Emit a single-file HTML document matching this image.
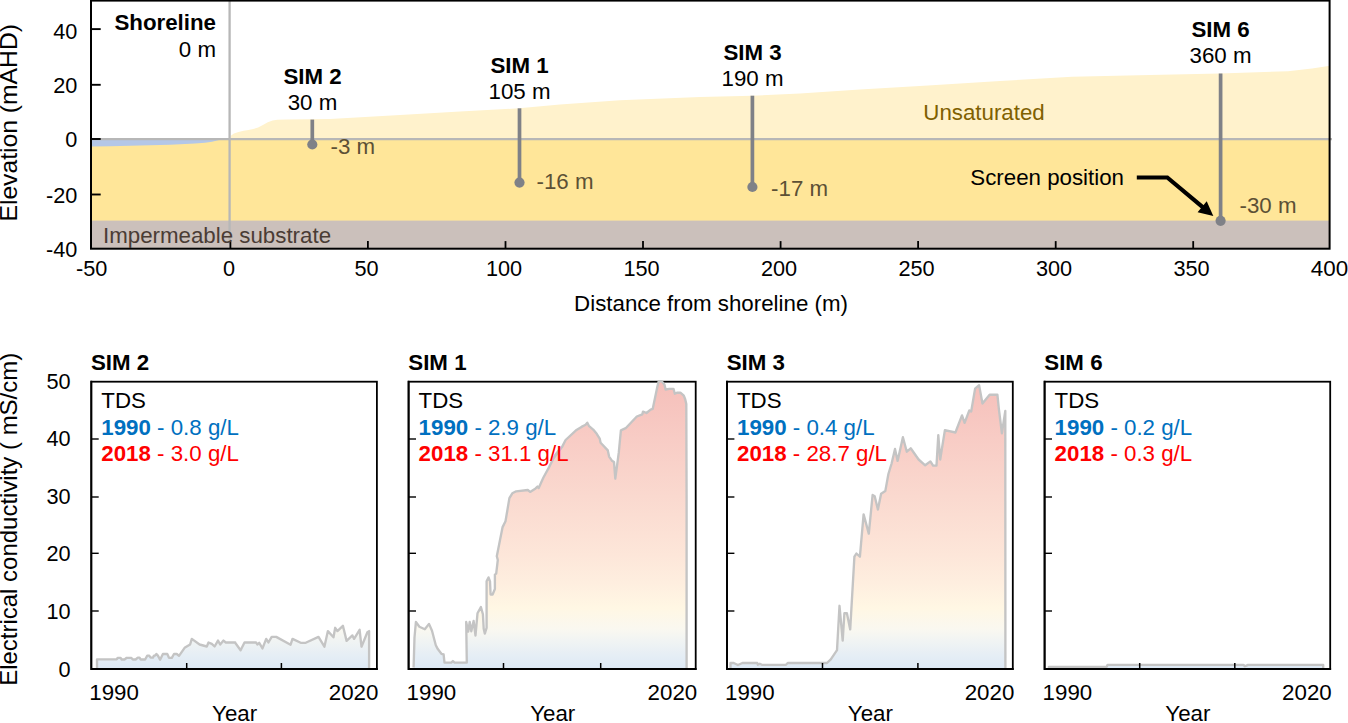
<!DOCTYPE html>
<html lang="en"><head><meta charset="utf-8"><title>Seawater intrusion transect</title>
<style>
html,body{margin:0;padding:0;background:#fff;}
body{width:1348px;height:723px;overflow:hidden;}
svg{display:block;}
text{font-family:"Liberation Sans",sans-serif;font-size:22.3px;fill:#000;}
.b{font-weight:bold;}
.g{fill:#5C5035;}
.m{text-anchor:middle;}
.e{text-anchor:end;}
.t{font-size:21.7px;}
</style></head><body>
<svg width="1348" height="723" viewBox="0 0 1348 723">
<defs>
<linearGradient id="ec" gradientUnits="userSpaceOnUse" x1="0" y1="669.0" x2="0" y2="381.7">
<stop offset="0" stop-color="#DDE9F5"/>
<stop offset="0.05" stop-color="#E6EEF5"/>
<stop offset="0.1" stop-color="#F1F4F3"/>
<stop offset="0.14" stop-color="#FAF8F0"/>
<stop offset="0.21" stop-color="#FFF7E4"/>
<stop offset="0.3" stop-color="#FEEEDF"/>
<stop offset="0.4" stop-color="#FDE6D9"/>
<stop offset="0.6" stop-color="#FAD9CF"/>
<stop offset="0.8" stop-color="#F8CCC5"/>
<stop offset="1.0" stop-color="#F5BFBA"/>
</linearGradient>
</defs>
<rect width="1348" height="723" fill="#fff"/>
<g id="section">
<rect x="91.0" y="139.0" width="1238.6" height="82.0" fill="#FFE699"/>
<rect x="91.0" y="220.6" width="1238.6" height="28.099999999999994" fill="#CBC0BB"/>
<path d="M230.5,139.0 L230.8,135.8 L233.9,133.4 L238.5,132.0 L243.6,130.8 L248.5,129.9 L253.2,129.0 L258.1,127.6 L262.9,125.0 L267.8,122.3 L272.6,120.6 L277.4,119.8 L287.1,119.4 L306.5,119.2 L330.0,118.9 L400.0,115.0 L460.0,111.5 L519.0,108.3 L560.0,104.5 L620.0,100.3 L700.0,97.0 L752.0,95.7 L800.0,93.5 L860.0,89.5 L928.0,85.5 L1000.0,81.0 L1072.0,76.8 L1150.0,75.0 L1220.0,73.4 L1288.0,71.2 L1312.0,68.5 L1330.0,65.8 L1329.6,139.0 L230.5,139.0Z" fill="#FFF2CC"/>
<path d="M91.0,139.0 L223.0,139.0 L221.0,139.5 L217.0,140.6 L212.0,141.7 L205.0,142.7 L195.0,143.5 L170.0,144.8 L140.0,145.6 L110.0,146.3 L91.5,146.5Z" fill="#B4C7E7"/>
<line x1="91.0" y1="139.2" x2="1332" y2="139.2" stroke="#B7B7B7" stroke-width="2.3"/>
<line x1="229.6" y1="0.6" x2="229.6" y2="244" stroke="#B7B7B7" stroke-width="2.3"/>
<line x1="312.3" y1="119.6" x2="312.3" y2="144.5" stroke="#7F8187" stroke-width="3.7"/>
<circle cx="312.3" cy="144.5" r="5.1" fill="#7F8187"/>
<line x1="519.5" y1="108.3" x2="519.5" y2="182.6" stroke="#7F8187" stroke-width="3.7"/>
<circle cx="519.5" cy="182.6" r="5.1" fill="#7F8187"/>
<line x1="752.4" y1="95.7" x2="752.4" y2="187.0" stroke="#7F8187" stroke-width="3.7"/>
<circle cx="752.4" cy="187.0" r="5.1" fill="#7F8187"/>
<line x1="1220.6" y1="73.4" x2="1220.6" y2="220.8" stroke="#7F8187" stroke-width="3.7"/>
<circle cx="1220.6" cy="220.8" r="5.1" fill="#7F8187"/>
<rect x="91.0" y="0.6" width="1238.6" height="248.1" fill="none" stroke="#000" stroke-width="2"/>
<line x1="91.0" y1="29.1" x2="100.7" y2="29.1" stroke="#000" stroke-width="1.9"/>
<line x1="91.0" y1="84.8" x2="100.7" y2="84.8" stroke="#000" stroke-width="1.9"/>
<line x1="91.0" y1="139.0" x2="100.7" y2="139.0" stroke="#000" stroke-width="1.9"/>
<line x1="91.0" y1="194.5" x2="100.7" y2="194.5" stroke="#000" stroke-width="1.9"/>
<line x1="230.4" y1="248.7" x2="230.4" y2="241.1" stroke="#000" stroke-width="1.8"/>
<line x1="367.9" y1="248.7" x2="367.9" y2="241.1" stroke="#000" stroke-width="1.8"/>
<line x1="505.5" y1="248.7" x2="505.5" y2="241.1" stroke="#000" stroke-width="1.8"/>
<line x1="643.0" y1="248.7" x2="643.0" y2="241.1" stroke="#000" stroke-width="1.8"/>
<line x1="780.6" y1="248.7" x2="780.6" y2="241.1" stroke="#000" stroke-width="1.8"/>
<line x1="918.1" y1="248.7" x2="918.1" y2="241.1" stroke="#000" stroke-width="1.8"/>
<line x1="1055.7" y1="248.7" x2="1055.7" y2="241.1" stroke="#000" stroke-width="1.8"/>
<line x1="1193.2" y1="248.7" x2="1193.2" y2="241.1" stroke="#000" stroke-width="1.8"/>
<text class="e t" x="77.3" y="39.4">40</text>
<text class="e t" x="77.3" y="93.1">20</text>
<text class="e t" x="77.3" y="147.2">0</text>
<text class="e t" x="77.3" y="202.8">-20</text>
<text class="e t" x="77.3" y="257.0">-40</text>
<text class="m t" x="91.6" y="276.2">-50</text>
<text class="m t" x="229.1" y="276.2">0</text>
<text class="m t" x="366.6" y="276.2">50</text>
<text class="m t" x="504.1" y="276.2">100</text>
<text class="m t" x="641.6" y="276.2">150</text>
<text class="m t" x="779.1" y="276.2">200</text>
<text class="m t" x="916.6" y="276.2">250</text>
<text class="m t" x="1054.1" y="276.2">300</text>
<text class="m t" x="1191.6" y="276.2">350</text>
<text class="m t" x="1329.5" y="276.2" style="font-size:22.4px">400</text>
<text class="m" x="711.0" y="311.0">Distance from shoreline (m)</text>
<text class="m" transform="translate(16.6,122.8) rotate(-90)" style="font-size:24px" textLength="197.5" lengthAdjust="spacingAndGlyphs">Elevation (mAHD)</text>
<text class="b e" x="216.0" y="29.9">Shoreline</text>
<text class="e" x="216.0" y="56.5">0 m</text>
<text class="b m" x="312.5" y="83.7">SIM 2</text>
<text class="m" x="312.5" y="109.8">30 m</text>
<text class="b m" x="519.5" y="72.5">SIM 1</text>
<text class="m" x="519.5" y="98.6">105 m</text>
<text class="b m" x="752.5" y="59.6">SIM 3</text>
<text class="m" x="752.5" y="85.7">190 m</text>
<text class="b m" x="1220.5" y="37.0">SIM 6</text>
<text class="m" x="1220.5" y="62.9">360 m</text>
<text class="g" x="330.5" y="153.8">-3 m</text>
<text class="g" x="536.5" y="188.8">-16 m</text>
<text class="g" x="771.1" y="196.0">-17 m</text>
<text class="g" x="1239.5" y="213.0">-30 m</text>
<text x="923.3" y="119.7" style="fill:#7F6000">Unsaturated</text>
<text x="103.0" y="242.6" style="fill:#4A3C35">Impermeable substrate</text>
<text x="970.3" y="184.5">Screen position</text>
<path d="M1136.8,177.5 L1167.3,177.5 L1203.0,207.3" fill="none" stroke="#000" stroke-width="4.2" stroke-linejoin="miter"/>
<path d="M1213.3,216.0 L1197.6,212.2 L1206.7,201.3 Z" fill="#000"/>
</g>
<g id="ec">
<text class="m" transform="translate(17.3,519.3) rotate(-90)" style="font-size:24px" textLength="333" lengthAdjust="spacingAndGlyphs">Electrical conductivity ( mS/cm)</text>
<text class="e t" x="70.5" y="676.5">0</text>
<text class="e t" x="70.5" y="619.0">10</text>
<text class="e t" x="70.5" y="561.4">20</text>
<text class="e t" x="70.5" y="503.9">30</text>
<text class="e t" x="70.5" y="446.3">40</text>
<text class="e t" x="70.5" y="388.8">50</text>
<rect x="91.3" y="381.7" width="285.6" height="287.3" fill="none" stroke="#000" stroke-width="1.8"/>
<path d="M97.0,669.0 L97.0,667.9 L97.0,659.3 L116.7,659.3 L117.8,657.8 L120.6,657.8 L121.7,659.5 L124.5,659.5 L126.7,657.8 L131.2,657.8 L132.8,659.5 L135.6,659.5 L137.8,657.6 L139.5,657.6 L140.6,659.5 L145.1,659.5 L147.3,655.6 L149.0,655.6 L150.6,657.6 L152.9,657.6 L154.0,655.6 L155.1,655.6 L156.4,654.0 L157.9,655.6 L160.1,659.8 L162.9,654.0 L167.3,654.0 L169.0,657.8 L171.8,657.8 L174.0,654.0 L176.8,654.0 L179.0,655.8 L184.6,647.8 L190.1,644.5 L191.8,638.9 L199.6,644.5 L206.8,646.5 L208.5,642.5 L211.8,643.9 L214.6,646.5 L218.0,640.6 L220.2,644.5 L223.5,640.6 L225.8,642.5 L235.2,642.5 L235.0,642.5 L240.6,650.3 L244.5,642.5 L256.1,642.5 L257.3,644.5 L259.2,642.8 L262.5,648.4 L266.2,638.9 L268.4,642.5 L271.7,636.9 L276.2,636.9 L290.6,644.7 L292.5,638.9 L300.7,642.8 L305.7,642.8 L318.5,636.9 L324.4,646.7 L327.9,631.1 L333.5,637.3 L335.2,627.8 L337.4,631.1 L342.9,625.8 L346.6,640.9 L352.4,635.4 L354.1,638.9 L359.6,629.8 L361.5,646.7 L367.4,632.3 L369.1,631.1 L369.1,667.9 L369.1,669.0Z" fill="url(#ec)"/>
<path d="M97.0,667.9 L97.0,659.3 L116.7,659.3 L117.8,657.8 L120.6,657.8 L121.7,659.5 L124.5,659.5 L126.7,657.8 L131.2,657.8 L132.8,659.5 L135.6,659.5 L137.8,657.6 L139.5,657.6 L140.6,659.5 L145.1,659.5 L147.3,655.6 L149.0,655.6 L150.6,657.6 L152.9,657.6 L154.0,655.6 L155.1,655.6 L156.4,654.0 L157.9,655.6 L160.1,659.8 L162.9,654.0 L167.3,654.0 L169.0,657.8 L171.8,657.8 L174.0,654.0 L176.8,654.0 L179.0,655.8 L184.6,647.8 L190.1,644.5 L191.8,638.9 L199.6,644.5 L206.8,646.5 L208.5,642.5 L211.8,643.9 L214.6,646.5 L218.0,640.6 L220.2,644.5 L223.5,640.6 L225.8,642.5 L235.2,642.5 L235.0,642.5 L240.6,650.3 L244.5,642.5 L256.1,642.5 L257.3,644.5 L259.2,642.8 L262.5,648.4 L266.2,638.9 L268.4,642.5 L271.7,636.9 L276.2,636.9 L290.6,644.7 L292.5,638.9 L300.7,642.8 L305.7,642.8 L318.5,636.9 L324.4,646.7 L327.9,631.1 L333.5,637.3 L335.2,627.8 L337.4,631.1 L342.9,625.8 L346.6,640.9 L352.4,635.4 L354.1,638.9 L359.6,629.8 L361.5,646.7 L367.4,632.3 L369.1,631.1 L369.1,667.9" fill="none" stroke="#C4C4C4" stroke-width="2.35" stroke-linejoin="round"/>
<path d="M91.3,380.8 L91.3,669.0 L377.8,669.0" fill="none" stroke="#000" stroke-width="1.8"/>
<line x1="91.3" y1="611.0" x2="98.7" y2="611.0" stroke="#000" stroke-width="1.4"/>
<line x1="91.3" y1="553.3" x2="98.7" y2="553.3" stroke="#000" stroke-width="1.4"/>
<line x1="91.3" y1="497.0" x2="98.7" y2="497.0" stroke="#000" stroke-width="1.4"/>
<line x1="91.3" y1="439.0" x2="98.7" y2="439.0" stroke="#000" stroke-width="1.4"/>
<line x1="186.7" y1="669.0" x2="186.7" y2="663.0" stroke="#000" stroke-width="1.5"/>
<line x1="281.4" y1="669.0" x2="281.4" y2="663.0" stroke="#000" stroke-width="1.5"/>
<text class="b" x="91.0" y="369.7">SIM 2</text>
<text x="101.3" y="408.3">TDS</text>
<text x="101.3" y="434.7" style="fill:#0070C0"><tspan class="b">1990</tspan> - 0.8 g/L</text>
<text x="101.3" y="460.8" style="fill:#FF0000"><tspan class="b">2018</tspan> - 3.0 g/L</text>
<text x="89.3" y="699.6">1990</text>
<text class="e" x="378.4" y="699.6">2020</text>
<text class="m" x="234.6" y="721.2">Year</text>
<rect x="408.6" y="381.7" width="287.1" height="287.3" fill="none" stroke="#000" stroke-width="1.8"/>
<path d="M413.6,669.0 L413.6,667.5 L414.5,637.5 L415.9,622.0 L419.4,626.8 L424.8,629.3 L429.0,623.9 L432.0,630.7 L435.8,645.2 L437.8,649.1 L441.6,653.9 L443.6,654.5 L444.5,662.6 L451.3,662.6 L452.9,661.1 L454.6,662.6 L466.8,662.6 L466.2,622.0 L468.2,631.6 L469.7,622.0 L471.3,631.3 L473.6,621.0 L475.5,635.5 L477.5,613.3 L480.9,607.1 L482.9,614.2 L483.7,628.7 L484.8,633.6 L486.6,627.8 L486.6,581.3 L488.5,577.4 L490.0,581.3 L490.6,594.5 L492.6,594.5 L494.9,589.0 L494.9,574.5 L496.2,573.6 L497.8,560.0 L496.8,556.2 L502.6,527.1 L505.5,521.3 L509.4,498.1 L512.3,493.3 L516.2,491.3 L527.8,490.0 L530.1,491.9 L535.6,488.4 L537.5,486.5 L538.7,488.0 L543.3,477.8 L549.1,467.1 L554.9,455.5 L560.7,447.7 L553.8,458.0 L562.1,446.9 L565.6,440.0 L576.0,430.3 L581.5,426.9 L585.6,424.8 L587.3,422.7 L589.1,426.2 L593.2,429.6 L596.7,433.8 L599.7,438.6 L600.6,442.8 L607.8,450.4 L609.1,456.6 L611.9,460.7 L614.0,462.1 L615.3,478.7 L618.8,452.4 L620.9,430.3 L625.7,428.2 L636.8,416.5 L642.3,414.4 L643.0,411.6 L646.5,413.0 L650.6,409.6 L652.7,408.9 L657.5,386.1 L658.7,381.2 L661.7,381.2 L664.5,384.7 L665.6,389.5 L669.3,388.8 L673.5,388.8 L674.8,393.7 L676.9,392.7 L680.4,392.7 L683.8,395.7 L685.2,399.2 L686.3,404.0 L686.6,500.0 L686.6,668.6 L686.6,669.0Z" fill="url(#ec)"/>
<path d="M413.6,667.5 L414.5,637.5 L415.9,622.0 L419.4,626.8 L424.8,629.3 L429.0,623.9 L432.0,630.7 L435.8,645.2 L437.8,649.1 L441.6,653.9 L443.6,654.5 L444.5,662.6 L451.3,662.6 L452.9,661.1 L454.6,662.6 L466.8,662.6 L466.2,622.0 L468.2,631.6 L469.7,622.0 L471.3,631.3 L473.6,621.0 L475.5,635.5 L477.5,613.3 L480.9,607.1 L482.9,614.2 L483.7,628.7 L484.8,633.6 L486.6,627.8 L486.6,581.3 L488.5,577.4 L490.0,581.3 L490.6,594.5 L492.6,594.5 L494.9,589.0 L494.9,574.5 L496.2,573.6 L497.8,560.0 L496.8,556.2 L502.6,527.1 L505.5,521.3 L509.4,498.1 L512.3,493.3 L516.2,491.3 L527.8,490.0 L530.1,491.9 L535.6,488.4 L537.5,486.5 L538.7,488.0 L543.3,477.8 L549.1,467.1 L554.9,455.5 L560.7,447.7 L553.8,458.0 L562.1,446.9 L565.6,440.0 L576.0,430.3 L581.5,426.9 L585.6,424.8 L587.3,422.7 L589.1,426.2 L593.2,429.6 L596.7,433.8 L599.7,438.6 L600.6,442.8 L607.8,450.4 L609.1,456.6 L611.9,460.7 L614.0,462.1 L615.3,478.7 L618.8,452.4 L620.9,430.3 L625.7,428.2 L636.8,416.5 L642.3,414.4 L643.0,411.6 L646.5,413.0 L650.6,409.6 L652.7,408.9 L657.5,386.1 L658.7,381.2 L661.7,381.2 L664.5,384.7 L665.6,389.5 L669.3,388.8 L673.5,388.8 L674.8,393.7 L676.9,392.7 L680.4,392.7 L683.8,395.7 L685.2,399.2 L686.3,404.0 L686.6,500.0 L686.6,668.6" fill="none" stroke="#C4C4C4" stroke-width="2.35" stroke-linejoin="round"/>
<path d="M408.6,380.8 L408.6,669.0 L696.6,669.0" fill="none" stroke="#000" stroke-width="1.8"/>
<line x1="408.6" y1="611.0" x2="416.0" y2="611.0" stroke="#000" stroke-width="1.4"/>
<line x1="408.6" y1="553.3" x2="416.0" y2="553.3" stroke="#000" stroke-width="1.4"/>
<line x1="408.6" y1="497.0" x2="416.0" y2="497.0" stroke="#000" stroke-width="1.4"/>
<line x1="408.6" y1="439.0" x2="416.0" y2="439.0" stroke="#000" stroke-width="1.4"/>
<line x1="503.5" y1="669.0" x2="503.5" y2="663.0" stroke="#000" stroke-width="1.5"/>
<line x1="600.7" y1="669.0" x2="600.7" y2="663.0" stroke="#000" stroke-width="1.5"/>
<text class="b" x="408.3" y="369.7">SIM 1</text>
<text x="418.6" y="408.3">TDS</text>
<text x="418.6" y="434.7" style="fill:#0070C0"><tspan class="b">1990</tspan> - 2.9 g/L</text>
<text x="418.6" y="460.8" style="fill:#FF0000"><tspan class="b">2018</tspan> - 31.1 g/L</text>
<text x="406.6" y="699.6">1990</text>
<text class="e" x="697.2" y="699.6">2020</text>
<text class="m" x="552.7" y="721.2">Year</text>
<rect x="727.0" y="381.7" width="285.8" height="287.3" fill="none" stroke="#000" stroke-width="1.8"/>
<path d="M730.5,669.0 L730.5,668.7 L730.5,663.0 L733.7,663.0 L737.9,665.0 L742.4,663.0 L757.3,663.0 L757.8,664.8 L759.8,663.8 L761.8,664.8 L786.0,664.8 L787.7,663.0 L827.0,663.0 L830.8,659.3 L837.0,650.1 L839.5,605.8 L842.7,640.6 L844.4,613.2 L846.9,613.2 L850.2,629.4 L854.4,556.7 L856.4,553.5 L859.9,556.7 L863.6,514.4 L868.8,533.6 L872.6,495.0 L874.7,496.3 L877.9,509.5 L881.1,493.7 L885.3,491.1 L888.4,474.0 L891.6,463.5 L895.0,449.0 L897.6,460.9 L902.9,437.2 L906.8,451.7 L910.7,448.3 L918.6,459.5 L925.2,465.3 L930.4,461.4 L933.1,465.6 L936.5,465.6 L938.3,435.1 L940.2,459.5 L944.9,430.1 L955.4,432.5 L962.0,415.4 L964.6,422.8 L969.3,410.4 L971.2,411.5 L975.1,388.6 L979.1,385.2 L982.5,403.6 L989.6,394.7 L997.4,394.7 L998.8,408.3 L1001.9,433.3 L1005.3,410.9 L1005.4,668.6 L1005.4,669.0Z" fill="url(#ec)"/>
<path d="M730.5,668.7 L730.5,663.0 L733.7,663.0 L737.9,665.0 L742.4,663.0 L757.3,663.0 L757.8,664.8 L759.8,663.8 L761.8,664.8 L786.0,664.8 L787.7,663.0 L827.0,663.0 L830.8,659.3 L837.0,650.1 L839.5,605.8 L842.7,640.6 L844.4,613.2 L846.9,613.2 L850.2,629.4 L854.4,556.7 L856.4,553.5 L859.9,556.7 L863.6,514.4 L868.8,533.6 L872.6,495.0 L874.7,496.3 L877.9,509.5 L881.1,493.7 L885.3,491.1 L888.4,474.0 L891.6,463.5 L895.0,449.0 L897.6,460.9 L902.9,437.2 L906.8,451.7 L910.7,448.3 L918.6,459.5 L925.2,465.3 L930.4,461.4 L933.1,465.6 L936.5,465.6 L938.3,435.1 L940.2,459.5 L944.9,430.1 L955.4,432.5 L962.0,415.4 L964.6,422.8 L969.3,410.4 L971.2,411.5 L975.1,388.6 L979.1,385.2 L982.5,403.6 L989.6,394.7 L997.4,394.7 L998.8,408.3 L1001.9,433.3 L1005.3,410.9 L1005.4,668.6" fill="none" stroke="#C4C4C4" stroke-width="2.35" stroke-linejoin="round"/>
<path d="M727.0,380.8 L727.0,669.0 L1013.6999999999999,669.0" fill="none" stroke="#000" stroke-width="1.8"/>
<line x1="727.0" y1="611.0" x2="734.4" y2="611.0" stroke="#000" stroke-width="1.4"/>
<line x1="727.0" y1="553.3" x2="734.4" y2="553.3" stroke="#000" stroke-width="1.4"/>
<line x1="727.0" y1="497.0" x2="734.4" y2="497.0" stroke="#000" stroke-width="1.4"/>
<line x1="727.0" y1="439.0" x2="734.4" y2="439.0" stroke="#000" stroke-width="1.4"/>
<line x1="822.5" y1="669.0" x2="822.5" y2="663.0" stroke="#000" stroke-width="1.5"/>
<line x1="917.9" y1="669.0" x2="917.9" y2="663.0" stroke="#000" stroke-width="1.5"/>
<text class="b" x="726.7" y="369.7">SIM 3</text>
<text x="737.0" y="408.3">TDS</text>
<text x="737.0" y="434.7" style="fill:#0070C0"><tspan class="b">1990</tspan> - 0.4 g/L</text>
<text x="737.0" y="460.8" style="fill:#FF0000"><tspan class="b">2018</tspan> - 28.7 g/L</text>
<text x="725.0" y="699.6">1990</text>
<text class="e" x="1014.3" y="699.6">2020</text>
<text class="m" x="870.4" y="721.2">Year</text>
<rect x="1044.6" y="381.7" width="285.6" height="287.3" fill="none" stroke="#000" stroke-width="1.8"/>
<path d="M1048.9,669.0 L1048.9,668.6 L1048.9,666.8 L1106.7,666.8 L1107.5,664.9 L1243.5,664.9 L1245.0,666.3 L1248.0,664.9 L1323.2,664.9 L1323.2,668.6 L1323.2,669.0Z" fill="url(#ec)"/>
<path d="M1048.9,668.6 L1048.9,666.8 L1106.7,666.8 L1107.5,664.9 L1243.5,664.9 L1245.0,666.3 L1248.0,664.9 L1323.2,664.9 L1323.2,668.6" fill="none" stroke="#C4C4C4" stroke-width="2.35" stroke-linejoin="round"/>
<path d="M1044.6,380.8 L1044.6,669.0 L1331.1,669.0" fill="none" stroke="#000" stroke-width="1.8"/>
<line x1="1044.6" y1="611.0" x2="1052.0" y2="611.0" stroke="#000" stroke-width="1.4"/>
<line x1="1044.6" y1="553.3" x2="1052.0" y2="553.3" stroke="#000" stroke-width="1.4"/>
<line x1="1044.6" y1="497.0" x2="1052.0" y2="497.0" stroke="#000" stroke-width="1.4"/>
<line x1="1044.6" y1="439.0" x2="1052.0" y2="439.0" stroke="#000" stroke-width="1.4"/>
<line x1="1139.7" y1="669.0" x2="1139.7" y2="663.0" stroke="#000" stroke-width="1.5"/>
<line x1="1234.8" y1="669.0" x2="1234.8" y2="663.0" stroke="#000" stroke-width="1.5"/>
<text class="b" x="1044.3" y="369.7">SIM 6</text>
<text x="1054.6" y="408.3">TDS</text>
<text x="1054.6" y="434.7" style="fill:#0070C0"><tspan class="b">1990</tspan> - 0.2 g/L</text>
<text x="1054.6" y="460.8" style="fill:#FF0000"><tspan class="b">2018</tspan> - 0.3 g/L</text>
<text x="1042.6" y="699.6">1990</text>
<text class="e" x="1331.7" y="699.6">2020</text>
<text class="m" x="1187.9" y="721.2">Year</text>
</g>
</svg>
</body></html>
